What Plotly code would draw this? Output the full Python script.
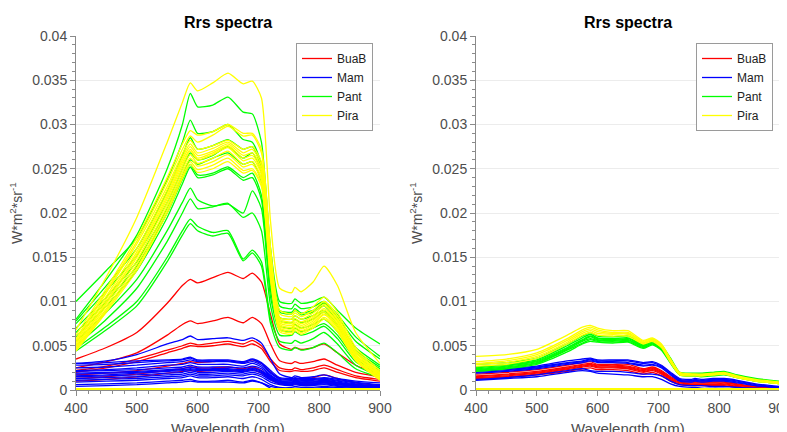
import plotly.graph_objects as go

# Wavelength grid (nm)
WL = [400, 450, 500, 550, 575, 588, 600, 625, 650, 675, 690, 705, 720, 735, 755, 760, 770, 790, 808, 830, 860, 900]

# ---------------- Left panel spectra ----------------
left_buab = [
    [.0035, .0048, .0065, .0098, .0118, .0125, .0121, .0127, .0133, .0126, .0132, .0122, .0085, .0052, .0046, .0048, .0046, .0048, .0052, .0042, .0028, .0018],
    [.0025, .0032, .0042, .0062, .0074, .0078, .0075, .0078, .0082, .0076, .0082, .0075, .0052, .0033, .0030, .0032, .0030, .0032, .0035, .0028, .0020, .0015],
    [.0022, .0027, .0035, .0045, .0050, .0053, .0051, .0053, .0055, .0052, .0056, .0050, .0035, .0025, .0023, .0025, .0023, .0025, .0028, .0023, .0016, .0012],
    [.0020, .0025, .0032, .0042, .0047, .0050, .0049, .0050, .0052, .0049, .0052, .0047, .0032, .0022, .0021, .0022, .0021, .0022, .0025, .0020, .0014, .0010],
    [.0017, .0019, .0022, .0027, .0030, .0032, .0031, .0032, .0033, .0031, .0034, .0030, .0020, .0013, .0012, .0013, .0012, .0014, .0017, .0013, .0008, .0005],
    [.0013, .0015, .0018, .0022, .0024, .0026, .0025, .0025, .0026, .0024, .0026, .0022, .0014, .0009, .0008, .0009, .0008, .0009, .0011, .0008, .0005, .0003],
    [.0010, .0012, .0015, .0019, .0021, .0022, .0021, .0022, .0022, .0021, .0023, .0019, .0012, .0007, .0006, .0007, .0006, .0007, .0009, .0007, .0004, .0002],
]
left_mam = [
    [.0030, .0033, .0040, .0052, .0057, .0061, .0057, .0058, .0059, .0056, .0059, .0053, .0035, .0018, .0014, .0016, .0014, .0015, .0017, .0013, .0010, .0008],
    [.0030, .0031, .0033, .0034, .0035, .0037, .0034, .0034, .0034, .0032, .0035, .0031, .0022, .0014, .0013, .0014, .0013, .0013, .0014, .0012, .0009, .0006],
    [.0028, .0029, .0031, .0033, .0034, .0036, .0033, .0033, .0033, .0031, .0034, .0030, .0020, .0013, .0012, .0013, .0012, .0012, .0013, .0011, .0008, .0005],
    [.0025, .0026, .0028, .0031, .0032, .0034, .0032, .0032, .0032, .0030, .0032, .0028, .0019, .0012, .0011, .0012, .0011, .0011, .0012, .0010, .0007, .0004],
    [.0022, .0023, .0025, .0028, .0029, .0031, .0029, .0029, .0029, .0027, .0030, .0026, .0017, .0011, .0010, .0011, .0010, .0010, .0011, .0009, .0006, .0004],
    [.0021, .0022, .0023, .0025, .0026, .0028, .0026, .0026, .0026, .0025, .0027, .0024, .0016, .0010, .0009, .0010, .0009, .0009, .0010, .0008, .0006, .0003],
    [.0019, .0020, .0021, .0023, .0024, .0026, .0024, .0024, .0024, .0023, .0025, .0022, .0015, .0010, .0009, .0010, .0009, .0009, .0010, .0008, .0005, .0003],
    [.0018, .0019, .0020, .0022, .0023, .0024, .0023, .0023, .0023, .0022, .0024, .0021, .0014, .0009, .0008, .0009, .0008, .0008, .0009, .0007, .0005, .0003],
    [.0016, .0017, .0019, .0021, .0022, .0023, .0022, .0022, .0022, .0021, .0023, .0020, .0013, .0008, .0007, .0008, .0007, .0007, .0008, .0006, .0004, .0002],
    [.0015, .0016, .0017, .0019, .0020, .0022, .0020, .0020, .0021, .0020, .0022, .0019, .0012, .0008, .0007, .0008, .0007, .0007, .0008, .0006, .0004, .0002],
    [.0013, .0014, .0015, .0017, .0018, .0020, .0018, .0018, .0019, .0018, .0020, .0017, .0011, .0007, .0006, .0007, .0006, .0006, .0007, .0005, .0003, .0002],
    [.0011, .0012, .0013, .0015, .0016, .0018, .0016, .0016, .0017, .0016, .0018, .0015, .0009, .0006, .0005, .0006, .0005, .0005, .0006, .0004, .0003, .0001],
    [.0009, .0010, .0011, .0013, .0014, .0016, .0014, .0014, .0015, .0013, .0015, .0012, .0006, .0003, .0003, .0004, .0003, .0003, .0004, .0003, .0002, .0001],
    [.0006, .0007, .0008, .0010, .0011, .0012, .0010, .0010, .0011, .0009, .0011, .0008, .0002, -.0002, -.0003, -.0002, -.0003, -.0003, -.0002, -.0003, -.0003, -.0003],
    [.0004, .0005, .0006, .0008, .0009, .0010, .0009, .0009, .0009, .0008, .0010, .0008, .0004, .0002, .0002, .0002, .0002, .0002, .0003, .0002, .0001, .0000],
]
left_pant = [
    [.0080, .0125, .0175, .0250, .0300, .0335, .0320, .0322, .0331, .0314, .0312, .0280, .0160, .0100, .0098, .0103, .0098, .0100, .0105, .0090, .0070, .0052],
    [.0100, .0135, .0172, .0238, .0280, .0305, .0290, .0292, .0300, .0283, .0280, .0255, .0150, .0095, .0092, .0097, .0092, .0094, .0100, .0085, .0060, .0038],
    [.0078, .0118, .0160, .0225, .0265, .0285, .0272, .0276, .0283, .0272, .0275, .0250, .0140, .0090, .0088, .0092, .0087, .0090, .0098, .0082, .0055, .0035],
    [.0075, .0112, .0152, .0212, .0250, .0268, .0260, .0265, .0275, .0262, .0268, .0245, .0135, .0088, .0086, .0090, .0085, .0088, .0095, .0078, .0048, .0028],
    [.0070, .0105, .0145, .0205, .0242, .0260, .0255, .0262, .0268, .0255, .0258, .0235, .0125, .0082, .0080, .0084, .0080, .0084, .0090, .0074, .0045, .0026],
    [.0065, .0100, .0140, .0200, .0238, .0255, .0243, .0245, .0252, .0240, .0245, .0220, .0118, .0078, .0076, .0080, .0076, .0080, .0088, .0072, .0042, .0024],
    [.0060, .0095, .0135, .0195, .0233, .0252, .0240, .0243, .0250, .0237, .0240, .0215, .0112, .0072, .0070, .0074, .0070, .0074, .0080, .0066, .0038, .0022],
    [.0055, .0088, .0125, .0180, .0212, .0228, .0215, .0208, .0210, .0200, .0225, .0205, .0105, .0068, .0066, .0070, .0066, .0070, .0075, .0062, .0035, .0020],
    [.0050, .0080, .0115, .0168, .0200, .0216, .0205, .0207, .0211, .0195, .0200, .0180, .0095, .0062, .0062, .0066, .0062, .0066, .0072, .0058, .0032, .0018],
    [.0047, .0072, .0100, .0150, .0180, .0193, .0185, .0178, .0180, .0148, .0158, .0145, .0080, .0055, .0053, .0056, .0053, .0058, .0065, .0052, .0028, .0016],
    [.0044, .0068, .0095, .0145, .0175, .0188, .0180, .0174, .0177, .0146, .0155, .0140, .0075, .0048, .0045, .0048, .0045, .0048, .0053, .0042, .0024, .0014],
]
left_pira = [
    [.0068, .0128, .0195, .0280, .0325, .0347, .0338, .0347, .0358, .0346, .0349, .0330, .0190, .0115, .0110, .0116, .0111, .0122, .0140, .0118, .0065, .0030],
    [.0062, .0115, .0172, .0240, .0278, .0293, .0288, .0292, .0300, .0290, .0290, .0272, .0160, .0090, .0086, .0090, .0086, .0094, .0105, .0088, .0048, .0022],
    [.0058, .0112, .0168, .0235, .0272, .0287, .0280, .0288, .0298, .0287, .0288, .0268, .0155, .0086, .0083, .0087, .0083, .0090, .0100, .0084, .0045, .0020],
    [.0056, .0110, .0165, .0230, .0267, .0282, .0272, .0276, .0282, .0272, .0275, .0258, .0150, .0082, .0080, .0084, .0080, .0087, .0097, .0081, .0043, .0019],
    [.0054, .0106, .0160, .0226, .0263, .0278, .0268, .0273, .0280, .0268, .0272, .0254, .0146, .0080, .0077, .0081, .0077, .0084, .0095, .0079, .0042, .0018],
    [.0052, .0103, .0156, .0222, .0260, .0275, .0265, .0270, .0278, .0265, .0268, .0250, .0143, .0078, .0075, .0079, .0075, .0082, .0092, .0077, .0040, .0017],
    [.0050, .0100, .0153, .0219, .0257, .0272, .0262, .0268, .0276, .0262, .0265, .0247, .0140, .0076, .0073, .0077, .0073, .0080, .0090, .0075, .0039, .0016],
    [.0049, .0098, .0150, .0216, .0254, .0270, .0260, .0266, .0274, .0259, .0262, .0244, .0137, .0074, .0071, .0075, .0071, .0078, .0088, .0073, .0038, .0015],
    [.0047, .0095, .0146, .0212, .0250, .0266, .0256, .0262, .0270, .0255, .0258, .0240, .0134, .0072, .0069, .0073, .0069, .0076, .0086, .0071, .0036, .0014],
    [.0046, .0092, .0142, .0208, .0246, .0262, .0253, .0258, .0266, .0252, .0255, .0237, .0130, .0070, .0067, .0071, .0067, .0074, .0085, .0070, .0035, .0013],
    [.0045, .0090, .0138, .0204, .0242, .0258, .0249, .0254, .0262, .0248, .0250, .0233, .0127, .0068, .0065, .0069, .0065, .0072, .0082, .0068, .0034, .0012],
    [.0044, .0088, .0135, .0200, .0239, .0255, .0246, .0250, .0258, .0245, .0248, .0230, .0124, .0066, .0063, .0067, .0063, .0070, .0080, .0066, .0033, .0011],
    [0, 0, 0, 0, 0, 0, 0, 0, 0, 0, 0, 0, 0, 0, 0, 0, 0, 0, 0, 0, 0, 0],
]

# ---------------- Right panel spectra ----------------
right_buab = [
    [.0018, .0020, .0023, .0028, .0031, .0032, .0029, .0029, .0029, .0024, .0026, .0022, .0015, .0011, .0010, .0010, .0010, .0010, .0010, .0007, .0004, .0003],
    [.0016, .0018, .0021, .0026, .0029, .0030, .0028, .0028, .0027, .0023, .0025, .0021, .0014, .0010, .0009, .0009, .0009, .0009, .0009, .0006, .0004, .0002],
    [.0015, .0017, .0020, .0025, .0028, .0029, .0027, .0027, .0026, .0022, .0024, .0020, .0013, .0009, .0008, .0008, .0008, .0008, .0008, .0006, .0003, .0002],
    [.0014, .0016, .0019, .0024, .0027, .0028, .0026, .0026, .0025, .0021, .0023, .0019, .0012, .0008, .0007, .0007, .0007, .0007, .0007, .0005, .0003, .0001],
    [.0013, .0015, .0018, .0023, .0026, .0027, .0025, .0025, .0024, .0020, .0022, .0018, .0011, .0007, .0006, .0006, .0006, .0006, .0006, .0004, .0002, .0001],
    [.0012, .0014, .0017, .0021, .0024, .0025, .0023, .0023, .0022, .0018, .0020, .0016, .0010, .0006, .0005, .0005, .0005, .0005, .0005, .0003, .0002, .0001],
]
right_mam = [
    [.0022, .0024, .0027, .0033, .0035, .0036, .0034, .0034, .0034, .0031, .0032, .0028, .0020, .0013, .0012, .0013, .0012, .0013, .0013, .0011, .0007, .0004],
    [.0021, .0023, .0026, .0031, .0033, .0035, .0033, .0033, .0033, .0030, .0031, .0027, .0019, .0012, .0011, .0012, .0011, .0012, .0012, .0010, .0006, .0003],
    [.0020, .0022, .0025, .0030, .0032, .0034, .0032, .0032, .0031, .0028, .0029, .0026, .0018, .0011, .0010, .0011, .0010, .0011, .0011, .0009, .0005, .0003],
    [.0019, .0021, .0024, .0029, .0031, .0033, .0031, .0031, .0030, .0027, .0028, .0025, .0017, .0010, .0009, .0010, .0009, .0010, .0010, .0008, .0005, .0002],
    [.0012, .0014, .0017, .0022, .0024, .0022, .0021, .0021, .0020, .0018, .0018, .0016, .0010, .0006, .0005, .0005, .0005, .0004, .0004, .0003, .0002, .0001],
    [.0011, .0013, .0015, .0020, .0022, .0021, .0019, .0018, .0017, .0015, .0015, .0012, .0007, .0004, .0003, .0003, .0002, .0002, .0002, .0001, .0000, .0000],
]
right_pant = [
    [.0029, .0031, .0036, .0052, .0061, .0065, .0061, .0060, .0061, .0053, .0057, .0051, .0036, .0020, .0019, .0019, .0019, .0020, .0021, .0017, .0013, .0010],
    [.0026, .0029, .0034, .0050, .0059, .0063, .0059, .0058, .0059, .0052, .0056, .0050, .0035, .0019, .0018, .0018, .0018, .0019, .0020, .0016, .0012, .0009],
    [.0025, .0028, .0033, .0048, .0057, .0061, .0058, .0057, .0058, .0051, .0055, .0049, .0034, .0019, .0018, .0018, .0017, .0018, .0019, .0016, .0012, .0009],
    [.0024, .0027, .0032, .0047, .0056, .0060, .0057, .0056, .0057, .0050, .0054, .0048, .0033, .0018, .0017, .0017, .0017, .0018, .0019, .0015, .0011, .0008],
    [.0023, .0026, .0031, .0046, .0055, .0058, .0056, .0055, .0056, .0049, .0053, .0047, .0032, .0018, .0017, .0017, .0016, .0017, .0018, .0015, .0011, .0008],
    [.0022, .0025, .0030, .0045, .0053, .0057, .0055, .0054, .0055, .0048, .0052, .0046, .0031, .0017, .0016, .0016, .0016, .0017, .0018, .0014, .0010, .0007],
    [.0021, .0024, .0029, .0043, .0052, .0055, .0054, .0053, .0054, .0047, .0051, .0045, .0030, .0017, .0016, .0016, .0015, .0016, .0017, .0014, .0010, .0007],
]
right_pira = [
    [.0038, .0040, .0046, .0062, .0071, .0073, .0070, .0067, .0067, .0056, .0059, .0052, .0035, .0020, .0018, .0018, .0018, .0019, .0020, .0016, .0012, .0009],
    [.0032, .0035, .0042, .0058, .0068, .0071, .0068, .0065, .0065, .0055, .0058, .0051, .0034, .0019, .0018, .0018, .0017, .0018, .0019, .0015, .0011, .0008],
    [.0030, .0033, .0040, .0056, .0066, .0069, .0066, .0064, .0064, .0054, .0057, .0050, .0033, .0018, .0017, .0017, .0017, .0018, .0019, .0015, .0011, .0008],
    [.0029, .0031, .0038, .0054, .0064, .0067, .0064, .0063, .0063, .0053, .0056, .0049, .0032, .0018, .0017, .0017, .0016, .0017, .0018, .0014, .0010, .0007],
    [.0027, .0029, .0036, .0052, .0062, .0065, .0062, .0061, .0061, .0052, .0055, .0048, .0031, .0017, .0016, .0016, .0016, .0017, .0018, .0014, .0010, .0007],
    [0, 0, 0, 0, 0, 0, 0, 0, 0, 0, 0, 0, 0, 0, 0, 0, 0, 0, 0, 0, 0, 0],
]

GROUP_NAMES = ["BuaB", "Mam", "Pant", "Pira"]
GROUP_COLORS = ["#ff0000", "#0000ff", "#00ff00", "#ffff00"]

X_TICKS = [400, 500, 600, 700, 800, 900]
Y_TICKS = [0, 0.005, 0.01, 0.015, 0.02, 0.025, 0.03, 0.035, 0.04]
Y_TICK_TEXT = ["0", "0.005", "0.01", "0.015", "0.02", "0.025", "0.03", "0.035", "0.04"]

TITLE = "Rrs spectra"
X_TITLE = "Wavelength (nm)"
Y_TITLE = "W*m<sup>2</sup>*sr<sup>-1</sup>"

# The page body adds an 8 px offset, so the figure is sized to fill the rest.
OFF = 8
W, H = 787 - OFF, 432 - OFF
PLOT_TOP, PLOT_BOTTOM = 36 - OFF, 390 - OFF
ML, MR, MT, MB = 0, 0, PLOT_TOP, H - PLOT_BOTTOM
PH = PLOT_BOTTOM - PLOT_TOP

fig = go.Figure()

panels = [
    ("x", "y", "legend", [left_buab, left_mam, left_pant, left_pira]),
    ("x2", "y2", "legend2", [right_buab, right_mam, right_pant, right_pira]),
]
for xa, ya, lg, groups in panels:
    for name, color, lines in zip(GROUP_NAMES, GROUP_COLORS, groups):
        for i, vals in enumerate(lines):
            is_zero = all(v == 0 for v in vals)
            fig.add_trace(go.Scatter(
                x=WL, y=vals, mode="lines",
                line=dict(color=color, width=4 if is_zero else 1.3,
                          shape="spline", smoothing=0.6),
                name=name, legendgroup=lg + name, showlegend=(i == 0),
                legend=lg, xaxis=xa, yaxis=ya, hoverinfo="skip",
            ))

FONT = "Liberation Sans, Arial, sans-serif"
AX_COL = "#8a8a8a"
TICK_FONT = dict(family=FONT, size=14, color="#4d4d4d")

domains = [((76 - OFF) / W, (380 - OFF) / W), ((476 - OFF) / W, (780 - OFF) / W)]

def xaxis_cfg(anchor, dom):
    return dict(
        domain=list(dom), anchor=anchor, range=[400, 900], automargin=False,
        tickvals=X_TICKS, ticks="outside", ticklen=5, tickcolor=AX_COL,
        showline=True, linecolor=AX_COL, linewidth=1, showgrid=False,
        zeroline=False, tickfont=TICK_FONT, layer="below traces",
        ticklabeloverflow="allow",
        minor=dict(dtick=20, ticks="outside", ticklen=3, tickcolor=AX_COL, showgrid=False),
    )

def yaxis_cfg(anchor):
    return dict(
        domain=[0, 1], anchor=anchor, range=[0, 0.04], automargin=False,
        tickvals=Y_TICKS, ticktext=Y_TICK_TEXT, ticks="outside", ticklen=5,
        tickcolor=AX_COL, showline=True, linecolor=AX_COL, linewidth=1,
        showgrid=True, gridcolor="#ececec", gridwidth=1, zeroline=False,
        tickfont=TICK_FONT, layer="below traces", ticklabeloverflow="allow",
        minor=dict(dtick=0.001, ticks="outside", ticklen=3, tickcolor=AX_COL, showgrid=False),
    )

legend_common = dict(
    xanchor="right", yanchor="top", y=(PLOT_BOTTOM - (43 - OFF)) / PH,
    bgcolor="white", bordercolor="#9a9a9a", borderwidth=1,
    font=dict(family=FONT, size=12, color="#222222"),
    tracegroupgap=0, itemwidth=30,
)

annotations = []
for dom in domains:
    cx = (dom[0] + dom[1]) / 2
    annotations.append(dict(
        text="<b>" + TITLE + "</b>", x=cx, y=(PLOT_BOTTOM - (22 - OFF)) / PH,
        xref="paper", yref="paper", xanchor="center", yanchor="middle", showarrow=False,
        font=dict(family=FONT, size=16, color="#000000"),
    ))
    annotations.append(dict(
        text=X_TITLE, x=cx, y=(PLOT_BOTTOM - (418 - OFF)) / PH, xref="paper", yref="paper",
        xanchor="center", yanchor="top", showarrow=False,
        font=dict(family=FONT, size=15, color="#4d4d4d"),
    ))
    annotations.append(dict(
        text=Y_TITLE, x=(dom[0] * W - 60) / W, y=0.5, xref="paper", yref="paper",
        xanchor="center", yanchor="middle", showarrow=False, textangle=-90,
        font=dict(family=FONT, size=14, color="#4d4d4d"),
    ))

fig.update_layout(
    width=W, height=H, autosize=False,
    margin=dict(l=ML, r=MR, t=MT, b=MB, pad=0, autoexpand=False),
    paper_bgcolor="white", plot_bgcolor="white",
    xaxis=xaxis_cfg("y", domains[0]),
    yaxis=yaxis_cfg("x"),
    xaxis2=xaxis_cfg("y2", domains[1]),
    yaxis2=yaxis_cfg("x2"),
    legend=dict(legend_common, x=(373 - OFF) / W),
    legend2=dict(legend_common, x=(773 - OFF) / W),
    annotations=annotations,
    showlegend=True,
)

fig.write_html("out.html")
